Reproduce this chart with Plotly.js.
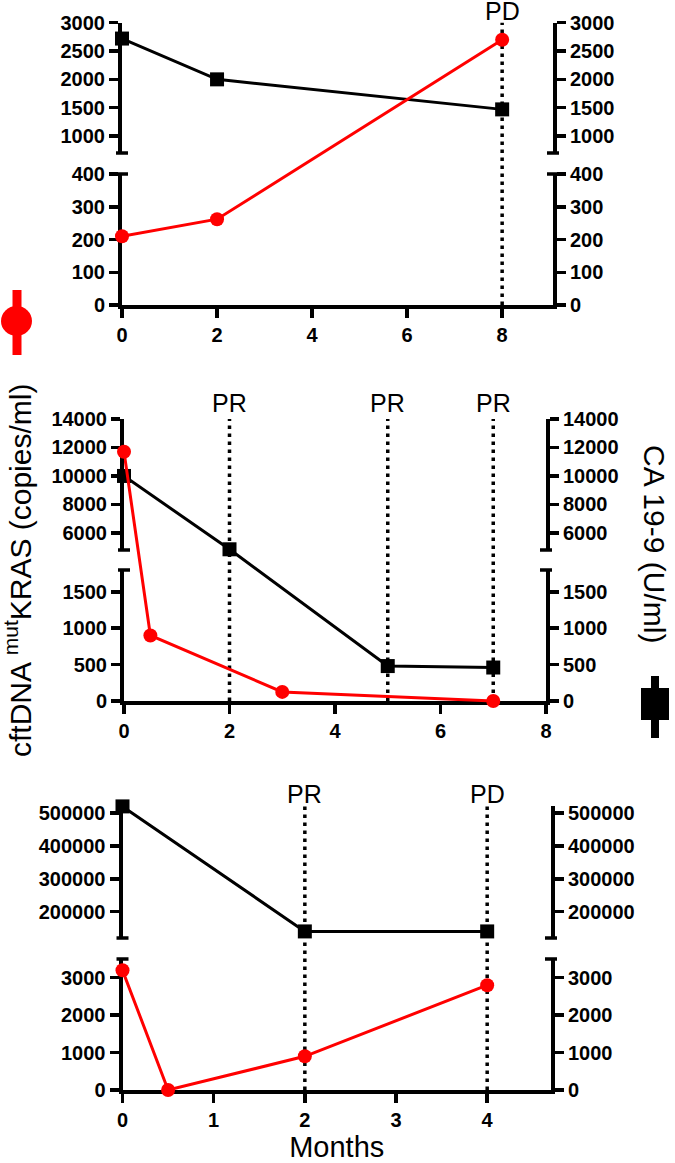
<!DOCTYPE html>
<html>
<head>
<meta charset="utf-8">
<script src="https://cdn.plot.ly/plotly-3.0.1.min.js"></script>
<style>
  body { margin: 0; background: white; }
  #chart_div { width: 675px; height: 1163px; }
</style>
</head>
<body>
<div id="chart_div"></div>
<script>

// ---- data ----

// top panel
var monthsCaA = [0, 2, 8];
var caA = [2720, 2000, 1470];
var monthsDnaA = [0, 2, 8];
var dnaA = [210, 262, 2700];
var eventMonthsA = [8];
var eventLabelsA = ["PD"];
var xTicksA = [0, 2, 4, 6, 8];
var loTicksA = [0, 100, 200, 300, 400];
var hiTicksA = [1000, 1500, 2000, 2500, 3000];

// middle panel
var monthsCaB = [0, 2, 5, 7];
var caB = [10000, 4850, 480, 460];
var monthsDnaB = [0, 0.5, 3, 7];
var dnaB = [11700, 900, 125, 0];
var eventMonthsB = [2, 5, 7];
var eventLabelsB = ["PR", "PR", "PR"];
var xTicksB = [0, 2, 4, 6, 8];
var loTicksB = [0, 500, 1000, 1500];
var hiTicksB = [6000, 8000, 10000, 12000, 14000];

// bottom panel
var monthsCaC = [0, 2, 4];
var caC = [520000, 140000, 140000];
var monthsDnaC = [0, 0.5, 2, 4];
var dnaC = [3200, 0, 900, 2800];
var eventMonthsC = [2, 4];
var eventLabelsC = ["PR", "PD"];
var xTicksC = [0, 1, 2, 3, 4];
var loTicksC = [0, 1000, 2000, 3000];
var hiTicksC = [200000, 300000, 400000, 500000];

var leftTitle = "cftDNA <sup>mut</sup>KRAS (copies/ml)";
var rightTitle = "CA 19-9 (U/ml)";
var xTitle = "Months";

// ---- page geometry (pixels) ----
var W = 675, H = 1163;
var FONT = "Liberation Sans, Arial, sans-serif";
var RED = "rgb(255,0,0)";

function px(x) { return x / W; }
function py(y) { return 1 - y / H; }

var panels = [
    {left: 122, right: 553, xmax: 9.07, hiTop: 22.7, hiBot: 153, loTop: 174, loBot: 305,
     hiRange: [700, 3000], loRange: [0, 400], labelShift: -3,
     xTicks: xTicksA, loTicks: loTicksA, hiTicks: hiTicksA,
     monthsCa: monthsCaA, ca: caA, monthsDna: monthsDnaA, dna: dnaA,
     events: eventMonthsA, labels: eventLabelsA},
    {left: 124, right: 546, xmax: 8, hiTop: 419, hiBot: 550, loTop: 570, loBot: 701,
     hiRange: [4800, 14000], loRange: [0, 1800], labelShift: 1,
     xTicks: xTicksB, loTicks: loTicksB, hiTicks: hiTicksB,
     monthsCa: monthsCaB, ca: caB, monthsDna: monthsDnaB, dna: dnaB,
     events: eventMonthsB, labels: eventLabelsB},
    {left: 122.5, right: 551, xmax: 4.7, hiTop: 806.4, hiBot: 938, loTop: 959, loBot: 1090,
     hiRange: [120000, 520000], loRange: [0, 3500], labelShift: -3,
     xTicks: xTicksC, loTicks: loTicksC, hiTicks: hiTicksC,
     monthsCa: monthsCaC, ca: caC, monthsDna: monthsDnaC, dna: dnaC,
     events: eventMonthsC, labels: eventLabelsC}
];

// broken y scale: value -> paper fraction on the panel
function brokenY(v, p) {
    if (v <= p.loRange[1]) {
        var f = (v - p.loRange[0]) / (p.loRange[1] - p.loRange[0]);
        return py(p.loBot - f * (p.loBot - p.loTop));
    }
    if (v < p.hiRange[0]) {
        var g0 = (v - p.loRange[1]) / (p.hiRange[0] - p.loRange[1]);
        return py(p.loTop - g0 * (p.loTop - p.hiBot));
    }
    var g = (v - p.hiRange[0]) / (p.hiRange[1] - p.hiRange[0]);
    return py(p.hiBot - g * (p.hiBot - p.hiTop));
}

function mapValues(vals, p) {
    var out = [];
    for (var i = 0; i < vals.length; i++) {
        out.push(brokenY(vals[i], p));
    }
    return out;
}

function yAxisStyle(extra) {
    var ax = {
        showline: true, linewidth: 4, linecolor: "black",
        ticks: "outside", ticklen: 9, tickwidth: 3.5, tickcolor: "black",
        tickfont: {family: FONT, size: 20, color: "black", weight: "bold"},
        tickformat: "d", tickmode: "array",
        showgrid: false, zeroline: false, fixedrange: true
    };
    for (var k in extra) { ax[k] = extra[k]; }
    return ax;
}

function yKey(n) { return "yaxis" + (n == 1 ? "" : n); }

function capShape(xPix, yPix) {
    return {type: "line", xref: "paper", yref: "paper",
            x0: px(xPix - 6), x1: px(xPix + 6), y0: py(yPix), y1: py(yPix),
            line: {color: "black", width: 3.5}};
}

function drawChart() {
    var data = [];
    var layout = {
        width: W, height: H,
        margin: {l: 0, r: 0, t: 0, b: 0},
        paper_bgcolor: "white",
        plot_bgcolor: "rgba(0,0,0,0)",
        showlegend: false,
        shapes: [],
        annotations: []
    };

    for (var i = 0; i < panels.length; i++) {
        var p = panels[i];
        var xn = i + 1;
        var xid = xn == 1 ? "x" : "x" + xn;
        var b = i * 5;
        var ids = [];
        for (var k = 1; k <= 5; k++) {
            ids.push(b + k == 1 ? "y" : "y" + (b + k));
        }
        var lowerDom = [py(p.loBot), py(p.loTop)];
        var upperDom = [py(p.hiBot), py(p.hiTop)];

        layout["xaxis" + (xn == 1 ? "" : xn)] = {
            domain: [px(p.left), px(p.right)],
            range: [0, p.xmax], anchor: ids[0],
            showline: true, linewidth: 4, linecolor: "black",
            ticks: "outside", ticklen: 9, tickwidth: 3.5, tickcolor: "black",
            tickmode: "array", tickvals: p.xTicks,
            tickfont: {family: FONT, size: 20, color: "black", weight: "bold"},
            showgrid: false, zeroline: false, fixedrange: true
        };
        if (i == 2) {
            layout["xaxis3"].title = {text: xTitle, standoff: 10,
                font: {family: FONT, size: 29, color: "black"}};
        }

        layout[yKey(b + 1)] = yAxisStyle({domain: lowerDom, range: p.loRange, anchor: xid,
            side: "left", tickvals: p.loTicks});
        layout[yKey(b + 2)] = yAxisStyle({domain: upperDom, range: p.hiRange, anchor: xid,
            side: "left", tickvals: p.hiTicks});
        layout[yKey(b + 3)] = yAxisStyle({overlaying: ids[0], range: p.loRange, anchor: xid,
            side: "right", tickvals: p.loTicks});
        layout[yKey(b + 4)] = yAxisStyle({overlaying: ids[1], range: p.hiRange, anchor: xid,
            side: "right", tickvals: p.hiTicks});
        layout[yKey(b + 5)] = {domain: [0, 1], range: [0, 1], anchor: xid,
            visible: false, fixedrange: true};

        // empty traces so the axis segments get drawn
        for (var k = 0; k < 4; k++) {
            data.push({x: [], y: [], xaxis: xid, yaxis: ids[k],
                type: "scatter", mode: "lines", hoverinfo: "skip"});
        }

        // CA 19-9 (black squares)
        data.push({
            x: p.monthsCa, y: mapValues(p.ca, p),
            xaxis: xid, yaxis: ids[4],
            type: "scatter", mode: "lines+markers", cliponaxis: false,
            line: {color: "black", width: 3},
            marker: {symbol: "square", size: 14, color: "black"},
            hoverinfo: "skip"
        });
        // cfDNA (red circles)
        data.push({
            x: p.monthsDna, y: mapValues(p.dna, p),
            xaxis: xid, yaxis: ids[4],
            type: "scatter", mode: "lines+markers", cliponaxis: false,
            line: {color: RED, width: 3},
            marker: {symbol: "circle", size: 14, color: RED},
            hoverinfo: "skip"
        });

        // response markers
        for (var e = 0; e < p.events.length; e++) {
            layout.shapes.push({
                type: "line", xref: xid, yref: "paper",
                x0: p.events[e], x1: p.events[e],
                y0: py(p.loBot), y1: py(p.hiTop),
                line: {color: "black", width: 3.5, dash: "3.5px,4.5px"},
                layer: "below"
            });
            layout.annotations.push({
                xref: xid, yref: "paper", x: p.events[e], y: py(p.hiTop),
                xanchor: "center", yanchor: "bottom", yshift: p.labelShift,
                showarrow: false, borderpad: 0, text: p.labels[e],
                font: {family: FONT, size: 25, color: "black"}
            });
        }

        // axis break caps
        var sides = [p.left, p.right];
        for (var s = 0; s < 2; s++) {
            layout.shapes.push(capShape(sides[s], p.hiBot));
            layout.shapes.push(capShape(sides[s], p.loTop));
        }
    }

    // side titles
    layout.annotations.push({
        xref: "paper", yref: "paper", x: px(18), y: py(571),
        xanchor: "center", yanchor: "middle", showarrow: false, textangle: -90,
        text: leftTitle, font: {family: FONT, size: 30, color: "black"}
    });
    layout.annotations.push({
        xref: "paper", yref: "paper", x: px(655), y: py(544),
        xanchor: "center", yanchor: "middle", showarrow: false, textangle: 90,
        text: rightTitle, font: {family: FONT, size: 30, color: "black"}
    });

    // series keys: red circle on a bar, black square on a bar
    layout.shapes.push({type: "line", xref: "paper", yref: "paper",
        x0: px(17), x1: px(17), y0: py(290), y1: py(355),
        line: {color: RED, width: 9}});
    layout.shapes.push({type: "circle", xref: "paper", yref: "paper",
        x0: px(1), x1: px(32), y0: py(306), y1: py(336),
        fillcolor: RED, line: {color: RED, width: 0}});
    layout.shapes.push({type: "line", xref: "paper", yref: "paper",
        x0: px(655), x1: px(655), y0: py(676), y1: py(738),
        line: {color: "black", width: 8}});
    layout.shapes.push({type: "rect", xref: "paper", yref: "paper",
        x0: px(641), x1: px(669), y0: py(688), y1: py(720),
        fillcolor: "black", line: {color: "black", width: 0}});

    Plotly.newPlot("chart_div", data, layout, {staticPlot: true});
}

drawChart();
</script>
</body>
</html>
